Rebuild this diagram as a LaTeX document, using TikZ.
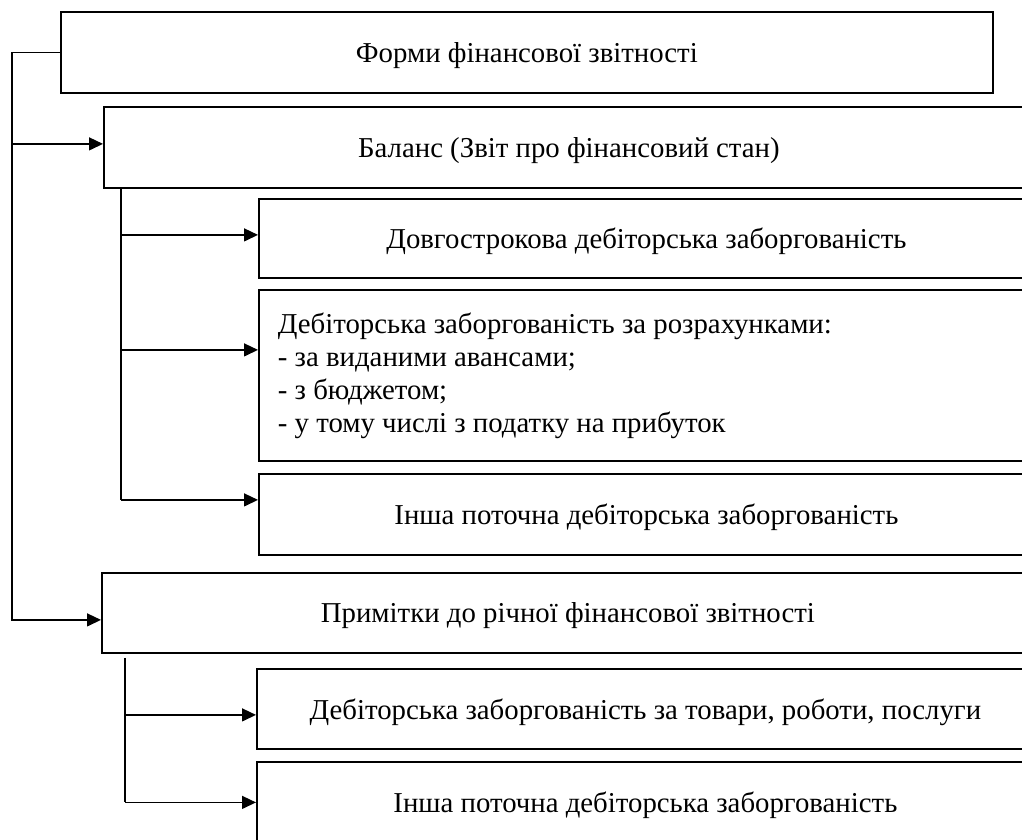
\documentclass[tikz,border=0pt]{standalone}
\usepackage{fontspec}
\setmainfont{Liberation Serif}
\usetikzlibrary{arrows.meta,calc}
\begin{document}
\begin{tikzpicture}[x=1pt,y=-1pt,
  box/.style={draw, line width=1.8pt, anchor=north west, inner sep=0pt,
    text depth=0pt, font=\fontsize{28.8}{33}\selectfont},
  conn/.style={line width=1.4pt},
  arr/.style={conn, -{Triangle[length=14pt,width=13pt]}}]
\useasboundingbox (0,0) rectangle (1022,840);
\clip (0,0) rectangle (1022,840);
\node[box, minimum width=932pt, minimum height=81pt] (top) at (60,11) {Форми фінансової звітності};
\node[box, minimum width=930pt, minimum height=81pt] (bal) at (103,106) {Баланс (Звіт про фінансовий стан)};
\node[box, minimum width=775pt, minimum height=79pt] (b1) at (258,198) {Довгострокова дебіторська заборгованість};
\node[box, text depth=, minimum width=775pt, minimum height=171pt, align=left, text width=737pt, inner xsep=19pt, inner ysep=0pt] (b2) at (258,289) {\spaceskip=0pt\xspaceskip=0pt Дебіторська заборгованість за розрахунками:\\- за виданими авансами;\\- з бюджетом;\\- у тому числі з податку на прибуток};
\node[box, minimum width=775pt, minimum height=81pt] (b3) at (258,473) {Інша поточна дебіторська заборгованість};
\node[box, minimum width=932pt, minimum height=80pt] (pr) at (101,572) {Примітки до річної фінансової звітності};
\node[box, minimum width=777pt, minimum height=80pt] (b4) at (256,668) {Дебіторська заборгованість за товари, роботи, послуги};
\node[box, minimum width=777pt, minimum height=81pt] (b5) at (256,761) {Інша поточна дебіторська заборгованість};
% main trunk
\coordinate (t) at (12,0);
\coordinate (balin) at ([yshift=3.5pt]bal.west);
\coordinate (prin) at ([yshift=-7pt]pr.west);
\draw[arr] (top.west) -- (t |- top.west) |- (prin);
\draw[arr] (t |- balin) -- (balin);
% balance branch
\coordinate (s1) at (121,0);
\coordinate (b1in) at ([yshift=3.5pt]b1.west);
\coordinate (b2in) at ([yshift=25.5pt]b2.west);
\coordinate (b3in) at ([yshift=14.5pt]b3.west);
\draw[conn] (s1 |- bal.south) -- (s1 |- b3in);
\draw[arr] (s1 |- b1in) -- (b1in);
\draw[arr] (s1 |- b2in) -- (b2in);
\draw[arr] (s1 |- b3in) -- (b3in);
% notes branch
\coordinate (s2) at (125,0);
\coordinate (b4in) at ([yshift=-6pt]b4.west);
\coordinate (b5in) at (b5.west);
\draw[conn] ([yshift=-4pt]s2 |- pr.south) -- (s2 |- b5in);
\draw[arr] (s2 |- b4in) -- (b4in);
\draw[arr] (s2 |- b5in) -- (b5in);
\end{tikzpicture}
\end{document}
